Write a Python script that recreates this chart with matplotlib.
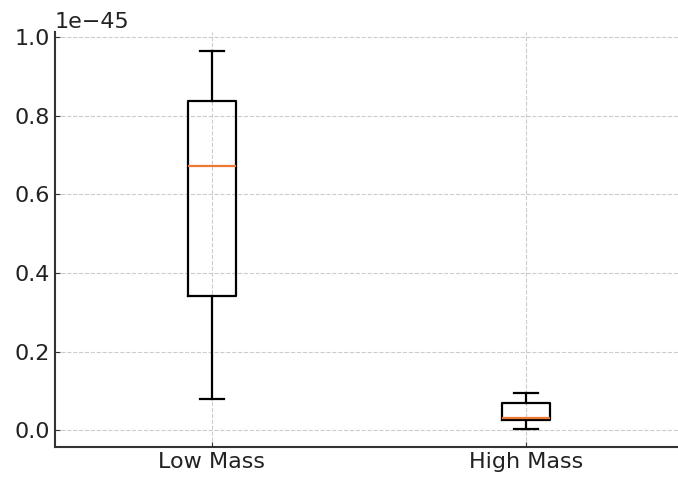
import matplotlib
matplotlib.use("Agg")
import matplotlib.pyplot as plt

categories = ["Low Mass", "High Mass"]
scale = 1e-45
whislo = [0.079, 0.002]
q1 = [0.341, 0.026]
med = [0.672, 0.032]
q3 = [0.838, 0.068]
whishi = [0.965, 0.094]

stats = []
for i, c in enumerate(categories):
    stats.append(dict(label=c, whislo=whislo[i] * scale, q1=q1[i] * scale,
                      med=med[i] * scale, q3=q3[i] * scale,
                      whishi=whishi[i] * scale, fliers=[]))

fig = plt.figure(figsize=(6.78, 4.82), dpi=100)
ax = fig.add_axes([55 / 678, 35 / 482, 628 / 678, 415 / 482])
ax.bxp(stats, positions=[1, 2], widths=0.15,
       boxprops=dict(color="black", linewidth=1.6),
       whiskerprops=dict(color="black", linewidth=1.6),
       capprops=dict(color="black", linewidth=1.6),
       medianprops=dict(color="#EE7733", linewidth=1.6))
ax.set_xlim(0.5, 2.5)
ax.set_ylim(-0.043e-45, 1.013e-45)
ax.set_yticks([0, 0.2e-45, 0.4e-45, 0.6e-45, 0.8e-45, 1.0e-45])
ax.grid(True, linestyle="--", color="#cccccc", linewidth=0.8)
ax.set_axisbelow(True)
for s in ["top", "right"]:
    ax.spines[s].set_visible(False)
for s in ["left", "bottom"]:
    ax.spines[s].set_color("#333333")
    ax.spines[s].set_linewidth(1.5)
ax.tick_params(direction="in", labelsize=16, colors="#333333", labelcolor="#222222")
off = ax.yaxis.get_offset_text()
off.set_fontsize(16)
fig.savefig("out.png", dpi=100)
